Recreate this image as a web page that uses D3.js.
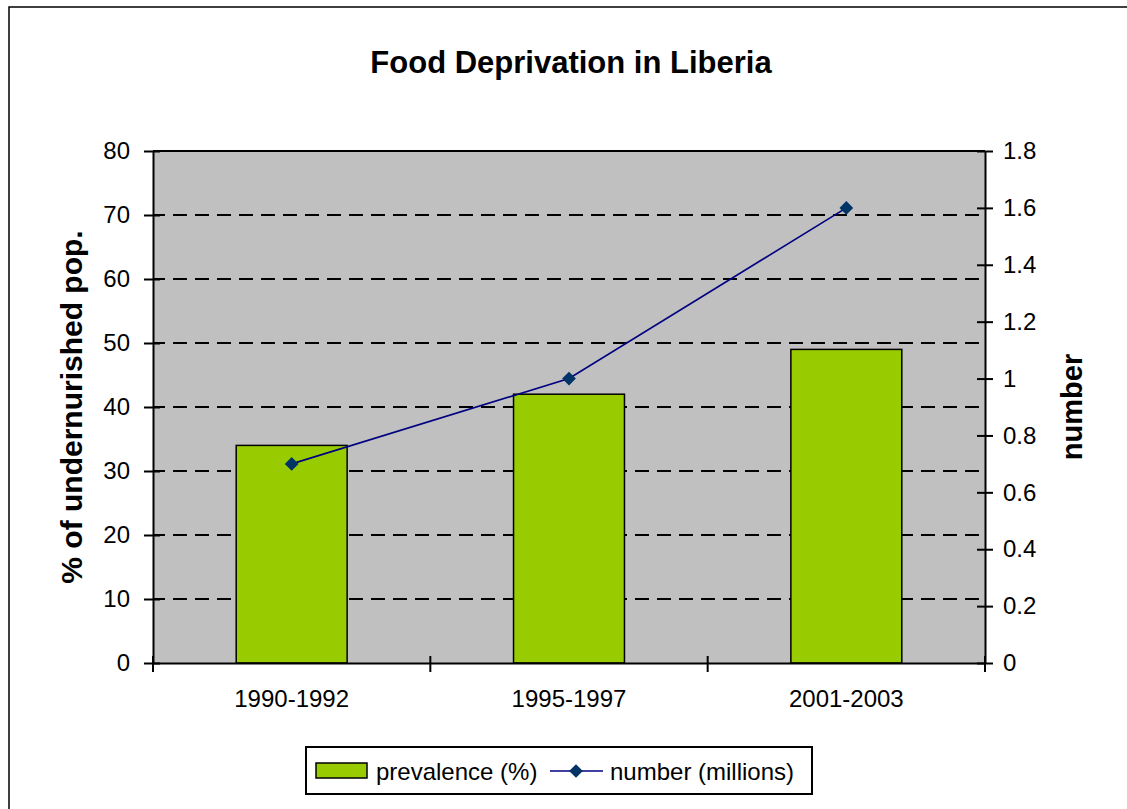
<!DOCTYPE html>
<meta charset="utf-8">
<script src="https://d3js.org/d3.v7.js"></script>
<style>
  body { margin: 0; background: #fff; }
  text { font-family: "Liberation Sans", Arial, sans-serif; fill: #000; }
</style>
<svg id="chart" width="1127" height="809"></svg>
<script>

// data
const periods = ["1990-1992", "1995-1997", "2001-2003"];
const prevalence = [34, 42, 49];        // % of undernourished pop.
const numberMillions = [0.7, 1.0, 1.6]; // number (millions)
const leftTicks = [0, 10, 20, 30, 40, 50, 60, 70, 80];
const rightTicks = [0, 0.2, 0.4, 0.6, 0.8, 1, 1.2, 1.4, 1.6, 1.8];

const svg = d3.select("#chart");
const margin = {top: 151, right: 142, bottom: 146, left: 153};
const width = 1127 - margin.left - margin.right,
      height = 809 - margin.top - margin.bottom;

// outer chart frame (runs off the right/bottom edge like the original)
svg.append("rect")
  .attr("x", 9).attr("y", 7)
  .attr("width", 1140).attr("height", 820)
  .attr("fill", "#fff").attr("stroke", "#000").attr("stroke-width", 1.5);

const g = svg.append("g").attr("transform", `translate(${margin.left},${margin.top})`);

const x = d3.scaleBand().domain(periods).range([0, width]).paddingInner(0.6).paddingOuter(0.3);
const xc = d3.scaleBand().domain(periods).range([0, width]); // band centres for the line
const y = d3.scaleLinear().domain([0, 80]).range([height, 0]);
const y2 = d3.scaleLinear().domain([0, 1.8]).range([height, 0]);

// plot area
g.append("rect")
  .attr("width", width).attr("height", height)
  .attr("fill", "#c0c0c0");

// dashed gridlines
g.selectAll(".grid")
  .data(leftTicks.filter(d => d > 0 && d < 80))
  .join("line")
    .attr("x1", 0).attr("x2", width)
    .attr("y1", d => y(d)).attr("y2", d => y(d))
    .attr("stroke", "#000").attr("stroke-width", 2)
    .attr("stroke-dasharray", "14,8").attr("stroke-dashoffset", 2);

// top border of plot area
g.append("line").attr("x1", 0).attr("x2", width).attr("y1", 0).attr("y2", 0)
  .attr("stroke", "#000").attr("stroke-width", 2);

// bars
g.selectAll(".bar")
  .data(periods)
  .join("rect")
    .attr("x", d => x(d))
    .attr("y", (d, i) => y(prevalence[i]))
    .attr("width", x.bandwidth())
    .attr("height", (d, i) => height - y(prevalence[i]))
    .attr("fill", "#99cc00")
    .attr("stroke", "#000").attr("stroke-width", 1.5);

// axes
function styleAxis(sel) {
  sel.select(".domain").attr("stroke", "#000").attr("stroke-width", 2);
  sel.selectAll(".tick line").attr("stroke", "#000").attr("stroke-width", 2);
  sel.selectAll("text").style("font-size", "24px").attr("fill", "#000");
}

const axL = g.append("g")
  .call(d3.axisLeft(y).tickValues(leftTicks).tickSize(9).tickSizeOuter(0).tickPadding(14))
  .call(styleAxis);
axL.selectAll(".tick line").attr("x1", 7);

const axR = g.append("g").attr("transform", `translate(${width},0)`)
  .call(d3.axisRight(y2).tickValues(rightTicks).tickSize(8).tickSizeOuter(0).tickPadding(10)
    .tickFormat(d => String(+d.toFixed(1))))
  .call(styleAxis);
axR.selectAll(".tick line").attr("x1", -8);

const axB = g.append("g").attr("transform", `translate(0,${height})`)
  .call(d3.axisBottom(x).tickSize(0).tickPadding(27))
  .call(styleAxis);
axB.selectAll(".tick line").remove();
// category boundary ticks
axB.selectAll(".bound")
  .data(d3.range(periods.length + 1))
  .join("line")
    .attr("x1", i => i * xc.step()).attr("x2", i => i * xc.step())
    .attr("y1", -7).attr("y2", 9)
    .attr("stroke", "#000").attr("stroke-width", 2);

// line series
const line = d3.line()
  .x((d, i) => xc(periods[i]) + xc.bandwidth() / 2)
  .y(d => y2(d));

g.append("path")
  .datum(numberMillions)
  .attr("d", line)
  .attr("fill", "none")
  .attr("stroke", "#000080").attr("stroke-width", 1.6);

const diamond = d3.symbol().type(d3.symbolDiamond2).size(120);
g.selectAll(".pt")
  .data(numberMillions)
  .join("path")
    .attr("d", diamond)
    .attr("transform", (d, i) => `translate(${xc(periods[i]) + xc.bandwidth() / 2},${y2(d)})`)
    .attr("fill", "#003366");

// title and axis titles
svg.append("text")
  .attr("x", 571).attr("y", 73)
  .attr("text-anchor", "middle")
  .style("font-size", "31px").style("font-weight", "bold")
  .text("Food Deprivation in Liberia");

svg.append("text")
  .attr("transform", `translate(82,${margin.top + height / 2}) rotate(-90)`)
  .attr("text-anchor", "middle")
  .style("font-size", "30px").style("font-weight", "bold")
  .text("% of undernurished pop.");

svg.append("text")
  .attr("transform", `translate(1082,${margin.top + height / 2}) rotate(-90)`)
  .attr("text-anchor", "middle")
  .style("font-size", "29px").style("font-weight", "bold")
  .text("number");

// legend
const lg = svg.append("g").attr("transform", "translate(306,747)");
lg.append("rect").attr("width", 506).attr("height", 47)
  .attr("fill", "#fff").attr("stroke", "#000").attr("stroke-width", 2);
lg.append("rect").attr("x", 10).attr("y", 16).attr("width", 51).attr("height", 15)
  .attr("fill", "#99cc00").attr("stroke", "#000").attr("stroke-width", 1.5);
lg.append("text").attr("x", 70).attr("y", 33).style("font-size", "24px").text("prevalence (%)");
lg.append("line").attr("x1", 244).attr("x2", 297).attr("y1", 24).attr("y2", 24)
  .attr("stroke", "#000080").attr("stroke-width", 1.6);
lg.append("path").attr("d", diamond).attr("transform", "translate(270,24)").attr("fill", "#003366");
lg.append("text").attr("x", 304).attr("y", 33).style("font-size", "24px").text("number (millions)");

</script>
